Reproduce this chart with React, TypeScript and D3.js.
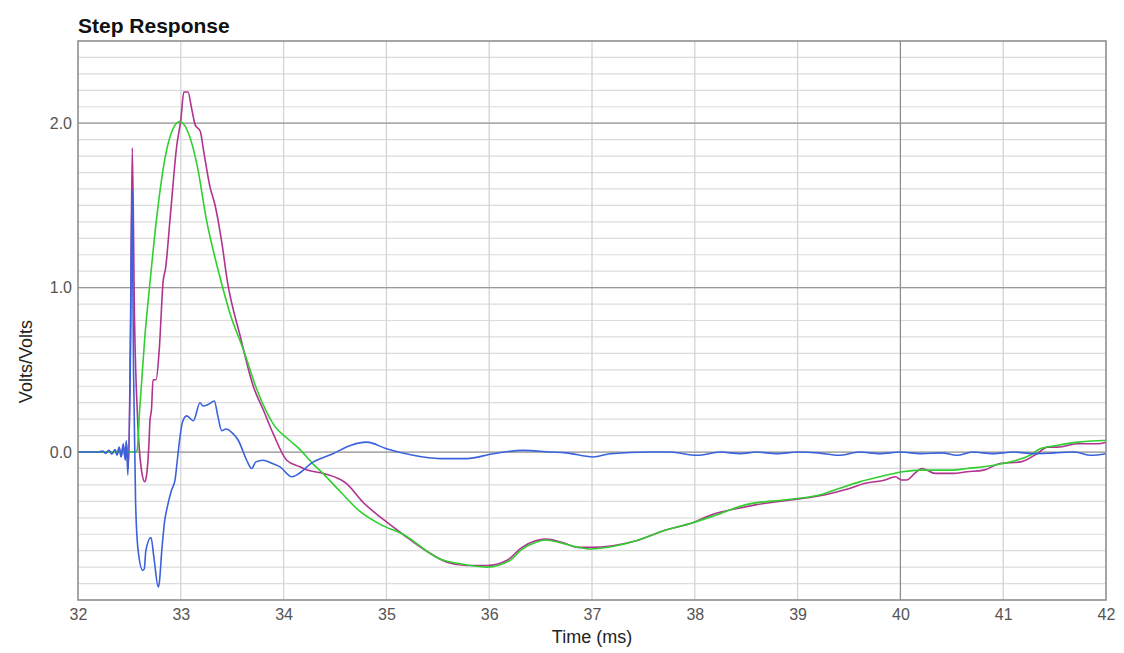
import * as d3 from "d3"
import { useEffect, useRef } from "react"

// time (ms) / value pairs
const magentaT = [32.0, 32.2, 32.24, 32.27, 32.3, 32.33, 32.36, 32.38, 32.4, 32.42, 32.44, 32.46, 32.47, 32.49, 32.51, 32.528, 32.55, 32.58, 32.62, 32.65, 32.665, 32.69, 32.7, 32.715, 32.73, 32.76, 32.79, 32.83, 32.85, 32.9, 32.96, 33.0, 33.03, 33.07, 33.105, 33.14, 33.19, 33.22, 33.285, 33.33, 33.4, 33.45, 33.58, 33.705, 33.8, 33.9, 34.03, 34.16, 34.23, 34.39, 34.61, 34.78, 34.97, 35.16, 35.36, 35.59, 35.78, 35.98, 36.17, 36.32, 36.45, 36.55, 36.71, 36.87, 36.99, 37.2, 37.43, 37.69, 37.98, 38.17, 38.44, 38.6, 38.95, 39.27, 39.46, 39.66, 39.85, 39.95, 40.01, 40.06, 40.14, 40.21, 40.34, 40.5, 40.65, 40.81, 40.97, 41.17, 41.33, 41.43, 41.53, 41.72, 41.92, 42.0]
const magentaV = [0, 0, 0.004, -0.006, 0.008, -0.01, 0.012, -0.015, 0.025, -0.025, 0.04, -0.04, 0.06, -0.1, 0.7, 1.85, 0.8, 0.2, -0.12, -0.18, -0.15, 0.05, 0.19, 0.26, 0.44, 0.44, 0.62, 1.05, 1.11, 1.45, 1.86, 2.02, 2.19, 2.19, 2.09, 1.99, 1.95, 1.84, 1.61, 1.51, 1.27, 1.05, 0.7, 0.4, 0.26, 0.11, -0.05, -0.09, -0.11, -0.13, -0.19, -0.31, -0.41, -0.5, -0.59, -0.67, -0.69, -0.69, -0.66, -0.58, -0.54, -0.53, -0.55, -0.58, -0.58, -0.57, -0.54, -0.48, -0.43, -0.38, -0.34, -0.32, -0.29, -0.26, -0.23, -0.19, -0.17, -0.15, -0.17, -0.17, -0.13, -0.1, -0.13, -0.13, -0.12, -0.11, -0.07, -0.06, -0.01, 0.03, 0.03, 0.05, 0.05, 0.06]

const greenT = [32.0, 32.555, 32.575, 32.6, 32.65, 32.7, 32.77, 32.85, 32.92, 32.99, 33.06, 33.16, 33.25, 33.37, 33.48, 33.61, 33.74, 33.9, 34.06, 34.16, 34.29, 34.35, 34.55, 34.74, 34.94, 35.16, 35.52, 35.72, 35.98, 36.2, 36.32, 36.45, 36.55, 36.71, 36.87, 36.99, 37.2, 37.43, 37.69, 37.98, 38.2, 38.5, 38.89, 39.22, 39.41, 39.61, 39.8, 40.02, 40.19, 40.5, 40.65, 40.81, 41.0, 41.13, 41.26, 41.36, 41.52, 41.73, 41.97, 42.0]
const greenV = [0, 0, 0.01, 0.26, 0.7, 1.03, 1.45, 1.8, 1.96, 2.01, 1.96, 1.74, 1.41, 1.09, 0.84, 0.62, 0.38, 0.17, 0.07, 0.015, -0.075, -0.11, -0.24, -0.36, -0.44, -0.5, -0.65, -0.68, -0.7, -0.66, -0.59, -0.55, -0.535, -0.555, -0.58, -0.59, -0.575, -0.54, -0.48, -0.43, -0.385, -0.32, -0.29, -0.26, -0.22, -0.18, -0.15, -0.12, -0.11, -0.11, -0.1, -0.09, -0.07, -0.05, -0.02, 0.02, 0.04, 0.06, 0.07, 0.07]

const blueT = [32.0, 32.2, 32.24, 32.27, 32.3, 32.33, 32.36, 32.38, 32.4, 32.42, 32.44, 32.46, 32.47, 32.485, 32.51, 32.525, 32.54, 32.56, 32.585, 32.63, 32.645, 32.66, 32.71, 32.74, 32.78, 32.79, 32.815, 32.845, 32.863, 32.911, 32.944, 32.966, 32.992, 33.015, 33.057, 33.122, 33.187, 33.216, 33.268, 33.326, 33.36, 33.398, 33.44, 33.495, 33.56, 33.641, 33.69, 33.73, 33.8, 33.89, 33.965, 34.08, 34.29, 34.48, 34.65, 34.81, 35.0, 35.26, 35.52, 35.78, 36.04, 36.33, 36.59, 36.75, 37.01, 37.18, 37.56, 37.76, 38.02, 38.25, 38.44, 38.6, 38.8, 39.0, 39.2, 39.4, 39.6, 39.8, 40.0, 40.2, 40.4, 40.55, 40.7, 40.9, 41.1, 41.3, 41.5, 41.7, 41.85, 42.0]
const blueV = [0, 0, 0.005, -0.008, 0.01, -0.012, 0.015, -0.02, 0.03, -0.03, 0.05, -0.05, 0.07, -0.14, 0.6, 1.59, 0.5, -0.3, -0.6, -0.72, -0.71, -0.6, -0.52, -0.65, -0.82, -0.8, -0.6, -0.41, -0.35, -0.23, -0.17, -0.05, 0.09, 0.18, 0.22, 0.19, 0.3, 0.28, 0.29, 0.31, 0.22, 0.13, 0.14, 0.12, 0.07, -0.05, -0.1, -0.06, -0.05, -0.07, -0.09, -0.15, -0.06, -0.01, 0.04, 0.06, 0.02, -0.02, -0.04, -0.04, -0.01, 0.01, 0, -0.005, -0.03, -0.01, 0, 0, -0.02, 0, -0.01, 0, -0.01, 0, -0.005, -0.02, 0, -0.01, 0, -0.01, -0.005, -0.02, 0, -0.01, 0, -0.01, -0.005, 0, -0.02, -0.01]

const xTicks = [32, 33, 34, 35, 36, 37, 38, 39, 40, 41, 42]
const yTicks = [0, 1, 2]

const series = [
  { t: magentaT, v: magentaV, colour: "#b0338f" },
  { t: greenT, v: greenV, colour: "#2fcf2f" },
  { t: blueT, v: blueV, colour: "#3a62dc" },
]

const W = 1124
const H = 653
const margin = { top: 41, right: 18, bottom: 53, left: 78 }
const font = "'Liberation Sans', Arial, Helvetica, sans-serif"

export default function App() {
  const ref = useRef<SVGSVGElement>(null)

  useEffect(() => {
    const svg = d3.select(ref.current)
    svg.selectAll("*").remove()

    const innerW = W - margin.left - margin.right
    const innerH = H - margin.top - margin.bottom

    const x = d3.scaleLinear().domain([32, 42]).range([0, innerW])
    const y = d3.scaleLinear().domain([-0.9, 2.5]).range([innerH, 0])

    svg.append("rect").attr("width", W).attr("height", H).attr("fill", "#fff")

    svg
      .append("text")
      .attr("x", margin.left)
      .attr("y", 33)
      .attr("font-family", font)
      .attr("font-weight", "bold")
      .attr("font-size", 21)
      .attr("fill", "#111")
      .text("Step Response")

    const g = svg
      .append("g")
      .attr("transform", `translate(${margin.left},${margin.top})`)

    // minor horizontal grid every 0.1
    const minor = d3.range(-8, 25).map((i) => i / 10)
    g.selectAll(".hminor")
      .data(minor)
      .enter()
      .append("line")
      .attr("x1", 0)
      .attr("x2", innerW)
      .attr("y1", (d) => y(d))
      .attr("y2", (d) => y(d))
      .attr("stroke", "#dcdcdc")
      .attr("stroke-width", 1.2)

    g.selectAll(".vgrid")
      .data(xTicks.slice(1, -1))
      .enter()
      .append("line")
      .attr("x1", (d) => x(d))
      .attr("x2", (d) => x(d))
      .attr("y1", 0)
      .attr("y2", innerH)
      .attr("stroke", (d) => (d === 40 ? "#8e8e8e" : "#d4d4d4"))
      .attr("stroke-width", 1.3)

    g.selectAll(".hmajor")
      .data(yTicks)
      .enter()
      .append("line")
      .attr("x1", 0)
      .attr("x2", innerW)
      .attr("y1", (d) => y(d))
      .attr("y2", (d) => y(d))
      .attr("stroke", "#999")
      .attr("stroke-width", 1.3)

    const plot = g.append("g")
    series.forEach((s) => {
      const pts = s.t.map((t, i) => [t, s.v[i]] as [number, number])
      const line = d3
        .line<[number, number]>()
        .x((d) => x(d[0]))
        .y((d) => y(d[1]))
        .curve(d3.curveMonotoneX)
      plot
        .append("path")
        .datum(pts)
        .attr("fill", "none")
        .attr("stroke", s.colour)
        .attr("stroke-width", 1.6)
        .attr("stroke-linejoin", "round")
        .attr("d", line)
    })

    g.append("rect")
      .attr("width", innerW)
      .attr("height", innerH)
      .attr("fill", "none")
      .attr("stroke", "#8f8f8f")
      .attr("stroke-width", 1.6)

    const xAxis = g
      .append("g")
      .attr("transform", `translate(0,${innerH})`)
      .call(d3.axisBottom(x).tickValues(xTicks).tickFormat(d3.format("d")).tickSize(0).tickPadding(9))
    xAxis.select(".domain").remove()
    xAxis
      .selectAll("text")
      .attr("font-family", font)
      .attr("font-size", 16)
      .attr("fill", "#555")

    const yAxis = g
      .append("g")
      .call(d3.axisLeft(y).tickValues(yTicks).tickFormat(d3.format(".1f")).tickSize(0).tickPadding(6))
    yAxis.select(".domain").remove()
    yAxis
      .selectAll("text")
      .attr("font-family", font)
      .attr("font-size", 16)
      .attr("fill", "#555")

    svg
      .append("text")
      .attr("x", margin.left + innerW / 2)
      .attr("y", 643)
      .attr("text-anchor", "middle")
      .attr("font-family", font)
      .attr("font-size", 18)
      .attr("fill", "#222")
      .text("Time (ms)")

    svg
      .append("text")
      .attr("transform", `translate(32,${margin.top + y(0.55)}) rotate(-90)`)
      .attr("text-anchor", "middle")
      .attr("font-family", font)
      .attr("font-size", 18)
      .attr("fill", "#222")
      .text("Volts/Volts")
  }, [])

  return <svg ref={ref} width={W} height={H} style={{ position: "absolute", left: 0, top: 0 }} />
}
